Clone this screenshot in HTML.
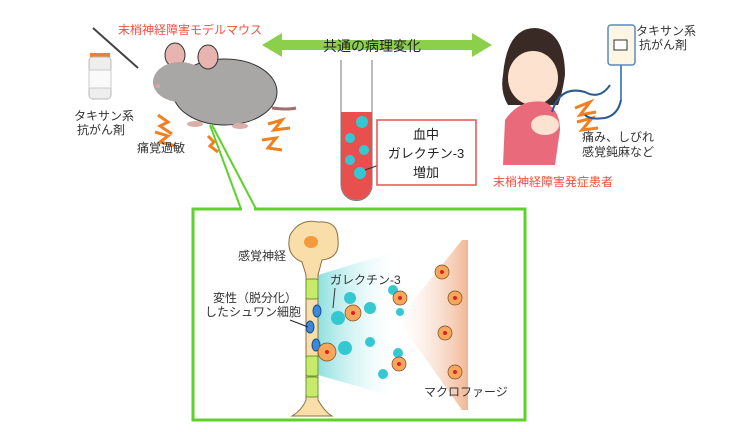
<!DOCTYPE html>
<html><head><meta charset="utf-8"><style>
html,body{margin:0;padding:0;background:#fff;}
svg{display:block;font-family:"Liberation Sans","Noto Sans CJK JP",sans-serif;}
</style></head><body>
<svg width="736" height="432" viewBox="0 0 736 432" xmlns="http://www.w3.org/2000/svg">
<defs>
<linearGradient id="cy" x1="0" x2="1"><stop offset="0" stop-color="#8fe0e0"/><stop offset="1" stop-color="#fff" stop-opacity="0.3"/></linearGradient>
<linearGradient id="or" x1="1" x2="0"><stop offset="0" stop-color="#f2b795"/><stop offset="1" stop-color="#fff" stop-opacity="0.3"/></linearGradient>
</defs>
<polygon points="262,45 282,33 282,40 472,40 472,33 492,45 472,57 472,50 282,50 282,57" fill="#8ccf4a"/>
<text x="323" y="51" font-size="14" fill="#222">共通の病理変化</text>
<text x="118" y="34" font-size="12" fill="#f0503c">末梢神経障害モデルマウス</text>
<line x1="93" y1="28" x2="138" y2="68" stroke="#444" stroke-width="2"/>
<rect x="90" y="53" width="20" height="4" fill="#f08030"/>
<rect x="89" y="57" width="22" height="42" rx="4" fill="#eee" stroke="#bbb"/>
<rect x="89" y="70" width="22" height="18" fill="#fafafa" stroke="#ccc"/>
<text x="74" y="120" font-size="12" fill="#333">タキサン系</text>
<text x="77" y="134" font-size="12" fill="#333">抗がん剤</text>
<path d="M272 108 Q288 110 296 108" stroke="#a07070" stroke-width="3" fill="none"/>
<ellipse cx="225" cy="92" rx="52" ry="33" fill="#a9a7a6" stroke="#333"/>
<ellipse cx="175" cy="55" rx="10" ry="12" fill="#e8b4b0" stroke="#333"/>
<ellipse cx="208" cy="57" rx="10" ry="12" fill="#e8b4b0" stroke="#333"/>
<ellipse cx="180" cy="82" rx="27" ry="20" fill="#a9a7a6"/>
<circle cx="158" cy="86" r="2" fill="#e8a0a0"/>
<ellipse cx="195" cy="124" rx="8" ry="3" fill="#d8b0a8"/><ellipse cx="240" cy="126" rx="8" ry="3" fill="#d8b0a8"/>
<g stroke="#f08020" stroke-width="3" fill="none">
<polyline points="158,115 168,122 160,126 172,134"/><polyline points="155,132 168,136 160,142 176,146"/>
<polyline points="268,124 282,120 274,130 290,128"/><polyline points="262,140 276,138 268,148 282,150"/>
<polyline points="208,136 214,142 210,146 218,152"/>
</g>
<text x="137" y="152" font-size="12" fill="#333">痛覚過敏</text>
<line x1="210" y1="125" x2="241" y2="209" stroke="#5ed22a" stroke-width="2"/>
<line x1="212" y1="125" x2="256" y2="209" stroke="#5ed22a" stroke-width="2"/>
<path d="M341 60 V185 A15.5 15.5 0 0 0 372 185 V60" fill="#fff" stroke="#777"/>
<path d="M341.5 112 H371.5 V185 A15 15 0 0 1 341.5 185 Z" fill="#e8504e"/>
<g fill="#35c8d2"><circle cx="362" cy="122" r="6"/><circle cx="350" cy="138" r="5"/><circle cx="364" cy="150" r="5"/><circle cx="350" cy="160" r="5"/><circle cx="360" cy="173" r="6"/></g>
<line x1="365" y1="170" x2="393" y2="160" stroke="#333"/>
<rect x="377" y="120" width="99" height="65" fill="#fff" stroke="#e8504e" stroke-width="1.5"/>
<text x="426" y="139" font-size="13" text-anchor="middle" fill="#222">血中</text>
<text x="426" y="158" font-size="13" text-anchor="middle" fill="#222">ガレクチン-3</text>
<text x="426" y="177" font-size="13" text-anchor="middle" fill="#222">増加</text>
<path d="M503 75 Q507 28 535 28 Q565 30 565 75 Q562 95 558 105 L508 105 Q500 92 503 75Z" fill="#3a2a26"/>
<ellipse cx="533" cy="78" rx="25" ry="27" fill="#fde2cf"/>
<path d="M505 120 Q520 98 545 102 Q560 110 560 130 L555 165 L503 165 Z" fill="#e96a7a"/>
<ellipse cx="545" cy="125" rx="14" ry="10" fill="#fde2cf"/>
<path d="M552 112 Q560 85 585 92 Q600 100 610 85" stroke="#2a5a90" stroke-width="2" fill="none"/>
<g stroke="#f08020" stroke-width="3" fill="none"><polyline points="575,108 590,102 580,115 596,112"/><polyline points="577,122 592,118 582,130 598,128"/></g>
<rect x="608" y="25" width="27" height="40" rx="3" fill="#fdf6e2" stroke="#5b8ac0" stroke-width="1.5"/>
<rect x="614" y="40" width="13" height="10" fill="#fff" stroke="#333"/>
<line x1="621" y1="65" x2="621" y2="100" stroke="#5b8ac0" stroke-width="2"/>
<path d="M621 100 Q618 115 605 118 Q590 120 585 115" stroke="#2a5a90" stroke-width="2" fill="none"/>
<text x="636" y="35" font-size="12" fill="#333">タキサン系</text>
<text x="639" y="49" font-size="12" fill="#333">抗がん剤</text>
<text x="582" y="141" font-size="12" fill="#333">痛み、しびれ</text>
<text x="582" y="156" font-size="12" fill="#333">感覚鈍麻など</text>
<text x="493" y="186" font-size="12" fill="#f0503c">末梢神経障害発症患者</text>
<rect x="193" y="209" width="332" height="211" fill="#fff" stroke="#5ed22a" stroke-width="3"/>
<line x1="242" y1="209" x2="254" y2="209" stroke="#fff" stroke-width="4"/>
<polygon points="318,275 390,253 392,396 318,375" fill="url(#cy)"/>
<polygon points="398,320 462,240 468,240 468,410 462,410" fill="url(#or)"/>
<path d="M290 235 Q300 218 318 222 Q338 220 338 240 Q340 258 322 260 L318 275 V400 Q325 412 332 416 H292 Q302 410 306 400 V275 L302 262 Q285 255 290 235Z" fill="#f9dea9" stroke="#8a7040"/>
<ellipse cx="311" cy="242" rx="7" ry="6" fill="#f29a3c"/>
<g fill="#c8ea6a" stroke="#6a9a30"><rect x="306" y="279" width="12" height="20" rx="2"/><rect x="306" y="356" width="12" height="20" rx="2"/><rect x="306" y="377" width="12" height="20" rx="2"/></g>
<g fill="#3a8ad8" stroke="#1a4a90"><ellipse cx="317" cy="311" rx="4" ry="6"/><ellipse cx="310" cy="327" rx="4" ry="6"/><ellipse cx="316" cy="345" rx="4" ry="6"/></g>
<line x1="290" y1="320" x2="308" y2="327" stroke="#222"/>
<text x="238" y="260" font-size="12" fill="#333">感覚神経</text>
<text x="213" y="302" font-size="12" fill="#333">変性（脱分化）</text>
<text x="205" y="316" font-size="12" fill="#333">したシュワン細胞</text>
<text x="330" y="284" font-size="12" fill="#333">ガレクチン-3</text>
<line x1="335" y1="288" x2="333" y2="308" stroke="#333"/>
<g fill="#35c8d2"><circle cx="350" cy="298" r="6"/><circle cx="338" cy="318" r="7"/><circle cx="345" cy="348" r="7"/><circle cx="370" cy="308" r="6"/><circle cx="370" cy="342" r="5"/><circle cx="393" cy="290" r="5"/><circle cx="400" cy="312" r="4"/><circle cx="398" cy="353" r="5"/><circle cx="383" cy="374" r="5"/></g>
<g fill="#f5a85c" stroke="#7a4a20" stroke-width="0.7">
<circle cx="353" cy="313" r="8"/><circle cx="327" cy="352" r="9"/><circle cx="400" cy="298" r="7"/><circle cx="399" cy="364" r="7"/>
<circle cx="442" cy="272" r="7"/><circle cx="455" cy="298" r="7"/><circle cx="445" cy="333" r="7"/><circle cx="455" cy="372" r="7"/>
</g>
<g fill="#e02020"><circle cx="353" cy="313" r="2"/><circle cx="327" cy="352" r="2"/><circle cx="400" cy="298" r="2"/><circle cx="399" cy="364" r="2"/><circle cx="442" cy="272" r="2"/><circle cx="455" cy="298" r="2"/><circle cx="445" cy="333" r="2"/><circle cx="455" cy="372" r="2"/></g>
<text x="424" y="396" font-size="12" fill="#333">マクロファージ</text>
</svg>
</body></html>
